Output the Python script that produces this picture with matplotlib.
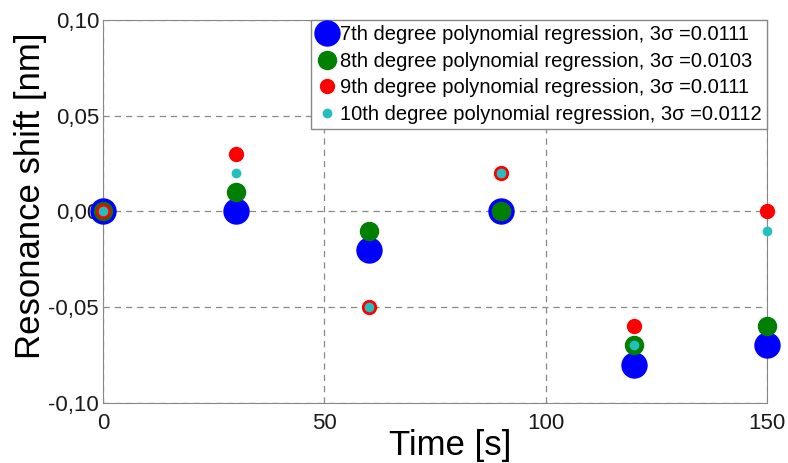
import numpy as np
import matplotlib
matplotlib.use('Agg')
import matplotlib.pyplot as plt
from matplotlib.ticker import FuncFormatter

plt.rcParams['font.family'] = ['Liberation Sans', 'DejaVu Sans']

time_s = [0, 30, 60, 90, 120, 150]
deg7 = [0.00, 0.00, -0.02, 0.00, -0.08, -0.07]
deg8 = [0.00, 0.01, -0.01, 0.00, -0.07, -0.06]
deg9 = [0.00, 0.03, -0.05, 0.02, -0.06, 0.00]
deg10 = [0.00, 0.02, -0.05, 0.02, -0.07, -0.01]
labels = ['7th degree polynomial regression, 3\u03c3 =0.0111',
          '8th degree polynomial regression, 3\u03c3 =0.0103',
          '9th degree polynomial regression, 3\u03c3 =0.0111',
          '10th degree polynomial regression, 3\u03c3 =0.0112']

fig = plt.figure(figsize=(7.88, 4.63), dpi=100)
ax = fig.add_axes([0.131, 0.130, 0.842, 0.827])

series = [(deg7, '#0000ff', 18), (deg8, '#007f00', 13), (deg9, '#ff0000', 10), (deg10, '#22bfbf', 6)]
for (vals, col, ms), lab in zip(series, labels):
    ax.plot(time_s, vals, linestyle='none', marker='o', color=col, markeredgecolor=col,
            markersize=ms, label=lab, clip_on=False, zorder=3)

ax.set_xlim(0, 150)
ax.set_ylim(-0.10, 0.10)
ax.set_xticks([0, 50, 100, 150])
ax.set_yticks([-0.10, -0.05, 0.0, 0.05, 0.10])
ax.yaxis.set_major_formatter(FuncFormatter(lambda v, p: ('%.2f' % v).replace('.', ',')))
ax.tick_params(labelsize=16, length=0, colors='#1a1a1a')
ax.tick_params(axis='x', pad=7)
ax.tick_params(axis='y', pad=3)
ax.grid(True, linestyle=(0, (5, 4)), color='#888888', linewidth=0.9)
for s in ax.spines.values():
    s.set_color('#888888')
ax.set_xlabel('Time [s]', fontsize=25)
ax.xaxis.set_label_coords(0.523, -0.068)
ax.set_ylabel('Resonance shift [nm]', fontsize=25)
ax.yaxis.set_label_coords(-0.085, 0.54)

leg = ax.legend(loc='upper right', borderaxespad=0, fontsize=14.5, handlelength=1.1,
                handletextpad=0.1, labelspacing=0.38, borderpad=0.25, fancybox=False,
                framealpha=1)
leg.get_frame().set_edgecolor('#888888')

fig.savefig('out.png', dpi=100)
